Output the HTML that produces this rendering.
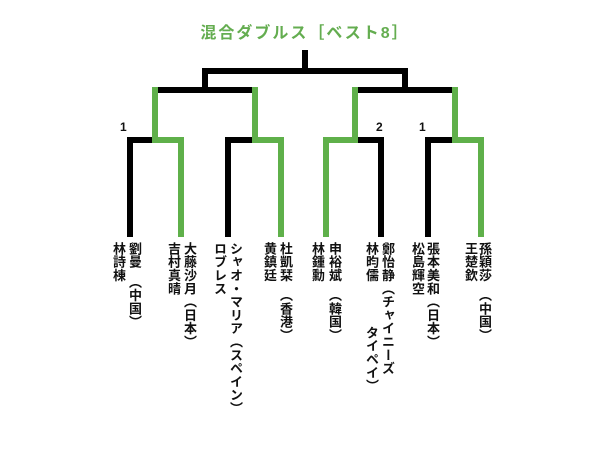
<!DOCTYPE html>
<html><head><meta charset="utf-8"><style>
html,body{margin:0;padding:0;background:#fff;}
body{width:610px;height:453px;position:relative;overflow:hidden;font-family:"Liberation Sans","Noto Sans CJK JP",sans-serif;}
.t{position:absolute;left:155px;top:19px;width:300px;text-align:center;color:#64ad50;font-weight:bold;font-size:16px;letter-spacing:2px;white-space:nowrap;}
.v{position:absolute;writing-mode:vertical-rl;font-family:"Noto Sans CJK JP",sans-serif;font-weight:bold;font-size:13px;letter-spacing:0.3px;line-height:15px;width:15px;color:#111;white-space:nowrap;}
.n{position:absolute;font-weight:bold;font-size:12px;color:#111;}
</style></head><body>
<div class="t">混合ダブルス［ベスト8］</div>
<svg width="610" height="453" style="position:absolute;left:0;top:0">
<g fill="#000">
<rect x="302" y="50" width="6" height="24"/>
<rect x="202" y="68" width="206" height="6"/>
<rect x="202" y="68" width="6" height="25"/>
<rect x="402" y="68" width="6" height="25"/>
<rect x="152" y="87" width="106" height="6"/>
<rect x="352" y="87" width="106" height="6"/>
<rect x="127" y="137" width="28" height="6"/><rect x="127" y="137" width="6" height="100"/>
<rect x="225" y="137" width="30" height="6"/><rect x="225" y="137" width="6" height="100"/>
<rect x="355" y="137" width="29" height="6"/><rect x="378" y="137" width="6" height="100"/>
<rect x="425" y="137" width="30" height="6"/><rect x="425" y="137" width="6" height="100"/>
</g>
<g fill="#5fb04a">
<rect x="152" y="87" width="6" height="56"/>
<rect x="252" y="87" width="6" height="56"/>
<rect x="352" y="87" width="6" height="56"/>
<rect x="452" y="87" width="6" height="56"/>
<rect x="155" y="137" width="29" height="6"/><rect x="178" y="137" width="6" height="100"/>
<rect x="255" y="137" width="29" height="6"/><rect x="278" y="137" width="6" height="100"/>
<rect x="323" y="137" width="32" height="6"/><rect x="323" y="137" width="6" height="100"/>
<rect x="455" y="137" width="29" height="6"/><rect x="478" y="137" width="6" height="100"/>
</g>
</svg>
<div class="n" style="left:120px;top:120px">1</div>
<div class="n" style="left:376px;top:120px">2</div>
<div class="n" style="left:419px;top:120px">1</div>

<div class="v" style="left:128px;top:242px">劉曼　（中国）</div>
<div class="v" style="left:112px;top:242px">林詩棟</div>

<div class="v" style="left:183px;top:242px">大藤沙月（日本）</div>
<div class="v" style="left:167px;top:242px">吉村真晴</div>

<div class="v" style="left:229px;top:242px">シャオ・マリア（スペイン）</div>
<div class="v" style="left:213px;top:242px">ロブレス</div>

<div class="v" style="left:279px;top:242px">杜凱栞　（香港）</div>
<div class="v" style="left:263px;top:242px">黄鎮廷</div>

<div class="v" style="left:328px;top:242px">申裕斌　（韓国）</div>
<div class="v" style="left:311px;top:242px">林鍾勳</div>

<div class="v" style="left:381px;top:242px">鄭怡静（チャイニーズ</div>
<div class="v" style="left:365px;top:242px">林昀儒</div>
<div class="v" style="left:365px;top:326px">タイペイ）</div>

<div class="v" style="left:426px;top:242px">張本美和（日本）</div>
<div class="v" style="left:411px;top:242px">松島輝空</div>

<div class="v" style="left:478px;top:242px">孫穎莎　（中国）</div>
<div class="v" style="left:464px;top:242px">王楚欽</div>
</body></html>
